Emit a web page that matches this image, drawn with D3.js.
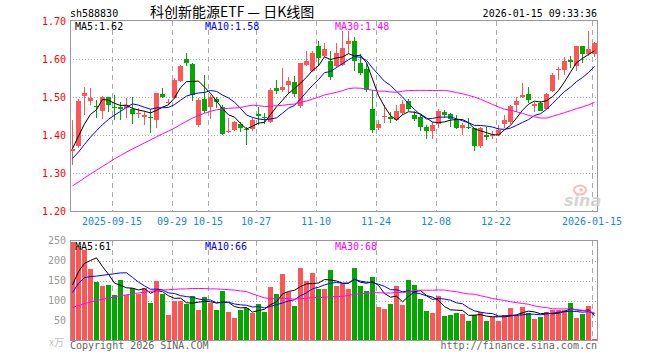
<!DOCTYPE html>
<html><head><meta charset="utf-8">
<script src="https://cdn.jsdelivr.net/npm/d3@7"></script>
<style>body{margin:0;background:#fff;}svg{display:block;}</style>
</head><body>
<svg id="c" width="660" height="360"></svg>
<script>
const dates = [
 "2025-09-04","2025-09-05","2025-09-08","2025-09-09","2025-09-10","2025-09-11","2025-09-12","2025-09-15","2025-09-16","2025-09-17",
 "2025-09-18","2025-09-19","2025-09-22","2025-09-23","2025-09-24","2025-09-25","2025-09-26","2025-09-29","2025-09-30","2025-10-09",
 "2025-10-10","2025-10-13","2025-10-14","2025-10-15","2025-10-16","2025-10-17","2025-10-20","2025-10-21","2025-10-22","2025-10-23",
 "2025-10-24","2025-10-27","2025-10-28","2025-10-29","2025-10-30","2025-10-31","2025-11-03","2025-11-04","2025-11-05","2025-11-06",
 "2025-11-07","2025-11-10","2025-11-11","2025-11-12","2025-11-13","2025-11-14","2025-11-17","2025-11-18","2025-11-19","2025-11-20",
 "2025-11-21","2025-11-24","2025-11-25","2025-11-26","2025-11-27","2025-11-28","2025-12-01","2025-12-02","2025-12-03","2025-12-04",
 "2025-12-05","2025-12-08","2025-12-09","2025-12-10","2025-12-11","2025-12-12","2025-12-15","2025-12-16","2025-12-17","2025-12-18",
 "2025-12-19","2025-12-22","2025-12-23","2025-12-24","2025-12-25","2025-12-26","2025-12-29","2025-12-30","2025-12-31","2026-01-05",
 "2026-01-06","2026-01-07","2026-01-08","2026-01-09","2026-01-12","2026-01-13","2026-01-14","2026-01-15"];
const open = [1.360,1.371,1.504,1.491,1.478,1.465,1.500,1.474,1.474,1.472, 1.468,1.456,1.449,1.449,1.441,1.509,1.485,1.498,1.544,1.601,
 1.588,1.428,1.496,1.474,1.496,1.474,1.410,1.415,1.430,1.417, 1.417,1.455,1.449,1.435,1.525,1.520,1.532,1.540,1.476,1.586,
 1.570,1.635,1.610,1.596,1.582,1.586,1.640,1.649,1.590,1.575, 1.468,1.419,1.448,1.449,1.441,1.459,1.489,1.454,1.447,1.421,
 1.411,1.430,1.461,1.456,1.444,1.419,1.422,1.418,1.371,1.402, 1.400,1.400,1.430,1.435,1.479,1.500,1.509,1.476,1.485,1.468,
 1.516,1.571,1.573,1.599,1.582,1.634,1.614,1.614];
const high = [1.439,1.496,1.527,1.525,1.494,1.503,1.502,1.505,1.488,1.498, 1.501,1.472,1.465,1.470,1.511,1.525,1.496,1.552,1.586,1.617,
 1.590,1.498,1.560,1.505,1.500,1.479,1.445,1.437,1.434,1.421, 1.445,1.474,1.460,1.524,1.546,1.577,1.553,1.555,1.591,1.623,
 1.623,1.647,1.643,1.621,1.643,1.674,1.674,1.658,1.614,1.587, 1.518,1.439,1.479,1.462,1.479,1.494,1.496,1.465,1.454,1.426,
 1.435,1.470,1.467,1.458,1.453,1.432,1.446,1.419,1.421,1.421, 1.412,1.426,1.454,1.481,1.500,1.538,1.526,1.487,1.489,1.511,
 1.564,1.579,1.605,1.608,1.634,1.634,1.675,1.646];
const low = [1.323,1.367,1.454,1.479,1.446,1.444,1.461,1.439,1.440,1.446, 1.430,1.446,1.428,1.406,1.418,1.498,1.479,1.495,1.540,1.582,
 1.491,1.421,1.459,1.444,1.472,1.400,1.406,1.412,1.409,1.374, 1.412,1.426,1.430,1.432,1.509,1.514,1.509,1.500,1.472,1.582,
 1.567,1.582,1.605,1.546,1.577,1.582,1.614,1.570,1.558,1.514, 1.406,1.413,1.432,1.432,1.437,1.454,1.465,1.437,1.411,1.391,
 1.389,1.419,1.446,1.421,1.416,1.400,1.416,1.360,1.366,1.387, 1.390,1.397,1.419,1.430,1.461,1.498,1.485,1.461,1.463,1.466,
 1.514,1.546,1.560,1.577,1.568,1.590,1.608,1.605];
const close = [1.364,1.491,1.511,1.497,1.474,1.500,1.479,1.471,1.468,1.479, 1.457,1.458,1.454,1.447,1.511,1.501,1.488,1.545,1.582,1.589,
 1.505,1.493,1.465,1.500,1.488,1.404,1.412,1.435,1.418,1.414, 1.441,1.452,1.446,1.520,1.516,1.528,1.542,1.509,1.589,1.596,
 1.617,1.604,1.627,1.553,1.617,1.630,1.647,1.596,1.564,1.518, 1.415,1.430,1.451,1.444,1.463,1.482,1.470,1.444,1.421,1.411,
 1.428,1.463,1.454,1.444,1.419,1.428,1.420,1.373,1.419,1.395, 1.402,1.415,1.441,1.478,1.491,1.505,1.494,1.482,1.465,1.509,
 1.558,1.575,1.596,1.593,1.634,1.614,1.627,1.643];
const volume = [246,236,226,178,147,137,140,115,152,115, 132,117,132,95,150,117,65,100,98,92,
 112,77,110,93,77,125,72,57,77,81, 68,92,72,135,117,167,122,87,182,150,
 170,130,130,177,137,142,130,182,137,125, 160,85,80,92,137,90,152,140,105,75,
 70,112,62,65,70,67,50,65,72,50, 60,50,65,82,65,85,70,55,60,72,
 77,77,77,95,57,67,87,5];
// moving-average values visible before their full window exists
const ma5Head = [1.365,1.398,1.430,1.455];
const ma10Head = [1.339,1.356,1.376,1.395,1.412,1.428,1.442,1.453,1.463];
const ma30Head = [1.267,1.277,1.288,1.298,1.308,1.318,1.328,1.338,1.347,1.356,1.364,1.372,1.380,1.388,1.396,
 1.404,1.411,1.419,1.428,1.437,1.445,1.452,1.458,1.463,1.467,1.469,1.471,1.472,1.473];
const vma5Head = [139,172,193,200];
const vma10Head = [120,143,157,160,161,163,165,167,169];
const vma30Head = [83,87,92,96,100,103,106,109,112,114,117,119,121,123,125,126,127,128,129,129,130,130,130,129,129,128,127,126,124];
const priceTicks = [1.20,1.30,1.40,1.50,1.60,1.70];
const volTicks = [50,100,150,200,250];
const tickDates = ["2025-09-15","2025-09-29","2025-10-15","2025-10-27","2025-11-10","2025-11-24","2025-12-08","2025-12-22","2026-01-15"];
const tickLabels = ["2025-09-15","09-29","10-15","10-27","11-10","11-24","12-08","12-22","2026-01-15"];
const priceLegend = ["MA5:1.62","MA10:1.58","MA30:1.48"];
const volLegend = ["MA5:61","MA10:66","MA30:68"];
const titleCode = "sh588830";
const titleName = "科创新能源ETF — 日K线图";
const timeStamp = "2026-01-15 09:33:36";

function movingAvg(s, n, head){ return s.map((v,i)=> i < n-1 ? head[i] : d3.mean(s.slice(i-n+1,i+1))); }

const L=70, R=597;
const svg = d3.select("#c");
const mono = "'DejaVu Sans Mono', 'Liberation Mono', monospace";
const RED="#ff5555", GREEN="#00a800";
const maColors = ["#000000","#0000ff","#ff00ff"];

const x = d3.scaleBand().domain(dates).range([70, 70 + dates.length*6]);
const y = d3.scaleLinear().domain([1.2,1.7]).range([211.3,21.3]);
const yv = d3.scaleLinear().domain([0,250]).range([340.5,240.5]);
const cx = d => x(d) + 2.5;
const idx = d3.range(dates.length);
const up = i => close[i] >= open[i];

function panel(g, ys, ticks, top, bottom){
  g.selectAll("line.h").data(ticks.filter(t => Math.round(ys(t))+0.5 > top+1 && Math.round(ys(t))+0.5 < bottom-1)).join("line")
   .attr("x1",L).attr("x2",R+1).attr("y1",t=>Math.round(ys(t))+0.5).attr("y2",t=>Math.round(ys(t))+0.5)
   .attr("stroke","#aaa").attr("stroke-dasharray","1,2");
  g.selectAll("line.v").data(tickDates).join("line")
   .attr("x1",d=>x(d)+0.5).attr("x2",d=>x(d)+0.5).attr("y1",top).attr("y2",bottom)
   .attr("stroke","#aaa").attr("stroke-dasharray","5,4");
}
function border(g, top, bottom){
  g.append("rect").attr("x",L+0.5).attr("y",top).attr("width",R-L).attr("height",bottom-top)
   .attr("fill","none").attr("stroke","#999");
}

// ---------- price panel ----------
const gp = svg.append("g").attr("shape-rendering","crispEdges");
panel(gp, y, priceTicks, 20.5, 211.5);

const gc = svg.append("g").attr("shape-rendering","crispEdges");
gc.selectAll("line.w").data(idx).join("line")
  .attr("x1",i=>cx(dates[i])).attr("x2",i=>cx(dates[i]))
  .attr("y1",i=>y(high[i])).attr("y2",i=>y(low[i]))
  .attr("stroke",i=>up(i)?RED:GREEN);
gc.selectAll("rect.b").data(idx).join("rect")
  .attr("x",i=>x(dates[i])).attr("width",5)
  .attr("y",i=>y(Math.max(open[i],close[i])))
  .attr("height",i=>Math.max(1, Math.abs(y(open[i])-y(close[i]))))
  .attr("fill",i=>up(i)?RED:GREEN);

const priceMA = [movingAvg(close,5,ma5Head), movingAvg(close,10,ma10Head), movingAvg(close,30,ma30Head)];
const lineP = d3.line().x((v,i)=>cx(dates[i])).y(v=>y(v));
priceMA.forEach((s,k)=> svg.append("path").attr("d",lineP(s)).attr("fill","none").attr("stroke",maColors[k]).attr("stroke-width",1));

border(svg.append("g").attr("shape-rendering","crispEdges"), 20.5, 211.5);

svg.append("g").selectAll("text").data(priceTicks).join("text")
  .attr("x",66).attr("y",t=>y(t)+3.5).attr("text-anchor","end")
  .attr("font-family",mono).attr("font-size",10).attr("fill","#ff0000").text(t=>d3.format(".2f")(t));
svg.append("g").selectAll("text").data(tickDates).join("text")
  .attr("x",d=>x(d)).attr("y",225).attr("text-anchor","middle")
  .attr("font-family",mono).attr("font-size",10).attr("fill","#1a86d8").text((d,i)=>tickLabels[i]);
const legX = [75,205,335];
priceLegend.forEach((t,k)=> svg.append("text").attr("x",legX[k]).attr("y",29.5)
  .attr("font-family",mono).attr("font-size",10).attr("fill",maColors[k]).text(t));

svg.append("text").attr("x",70).attr("y",17).attr("font-family",mono).attr("font-size",10).attr("fill","#000").text(titleCode);
svg.append("text").attr("x",150).attr("y",16.5).attr("font-family","'Noto Sans CJK SC', sans-serif").attr("font-size",14).attr("fill","#000").text(titleName);
svg.append("text").attr("x",597).attr("y",17).attr("text-anchor","end").attr("font-family",mono).attr("font-size",10).attr("fill","#000").text(timeStamp);

const wm = svg.append("g").attr("opacity",0.85);
wm.append("ellipse").attr("cx",580).attr("cy",190).attr("rx",6).attr("ry",4.5).attr("fill","none").attr("stroke","#f3b2b2").attr("stroke-width",2);
wm.append("circle").attr("cx",581).attr("cy",190).attr("r",1.8).attr("fill","#f3b2b2");
wm.append("text").attr("x",564).attr("y",206).attr("font-family","'DejaVu Sans', sans-serif").attr("font-style","italic").attr("font-weight","bold")
  .attr("font-size",16).attr("fill","#cfcfcf").text("sina");

// ---------- volume panel ----------
const gv = svg.append("g").attr("shape-rendering","crispEdges");
panel(gv, yv, volTicks, 240.5, 340.5);
gv.selectAll("rect.v").data(idx).join("rect")
  .attr("x",i=>x(dates[i])).attr("width",5)
  .attr("y",i=>yv(volume[i])).attr("height",i=>yv(0)-yv(volume[i]))
  .attr("fill",i=>up(i)?RED:GREEN);
const volMA = [movingAvg(volume,5,vma5Head), movingAvg(volume,10,vma10Head), movingAvg(volume,30,vma30Head)];
const lineV = d3.line().x((v,i)=>cx(dates[i])).y(v=>yv(v));
volMA.forEach((s,k)=> svg.append("path").attr("d",lineV(s)).attr("fill","none").attr("stroke",maColors[k]).attr("stroke-width",1));
border(svg.append("g").attr("shape-rendering","crispEdges"), 240.5, 340.5);

svg.append("g").selectAll("text").data(volTicks).join("text")
  .attr("x",66).attr("y",t=>yv(t)+3.5).attr("text-anchor","end")
  .attr("font-family",mono).attr("font-size",10).attr("fill","#999").text(t=>t);
svg.append("text").attr("x",49).attr("y",346).attr("font-family","'Noto Sans CJK SC', sans-serif").attr("font-size",10).attr("fill","#c0c0c0").text("x万");
volLegend.forEach((t,k)=> svg.append("text").attr("x",legX[k]).attr("y",249.5)
  .attr("font-family",mono).attr("font-size",10).attr("fill",maColors[k]).text(t));
svg.append("text").attr("x",70).attr("y",349).attr("font-family",mono).attr("font-size",10).attr("fill","#666").text("Copyright 2026 SINA.COM");
svg.append("text").attr("x",597).attr("y",349).attr("text-anchor","end").attr("font-family",mono).attr("font-size",10).attr("fill","#666").text("http://finance.sina.com.cn");
</script>
</body></html>
